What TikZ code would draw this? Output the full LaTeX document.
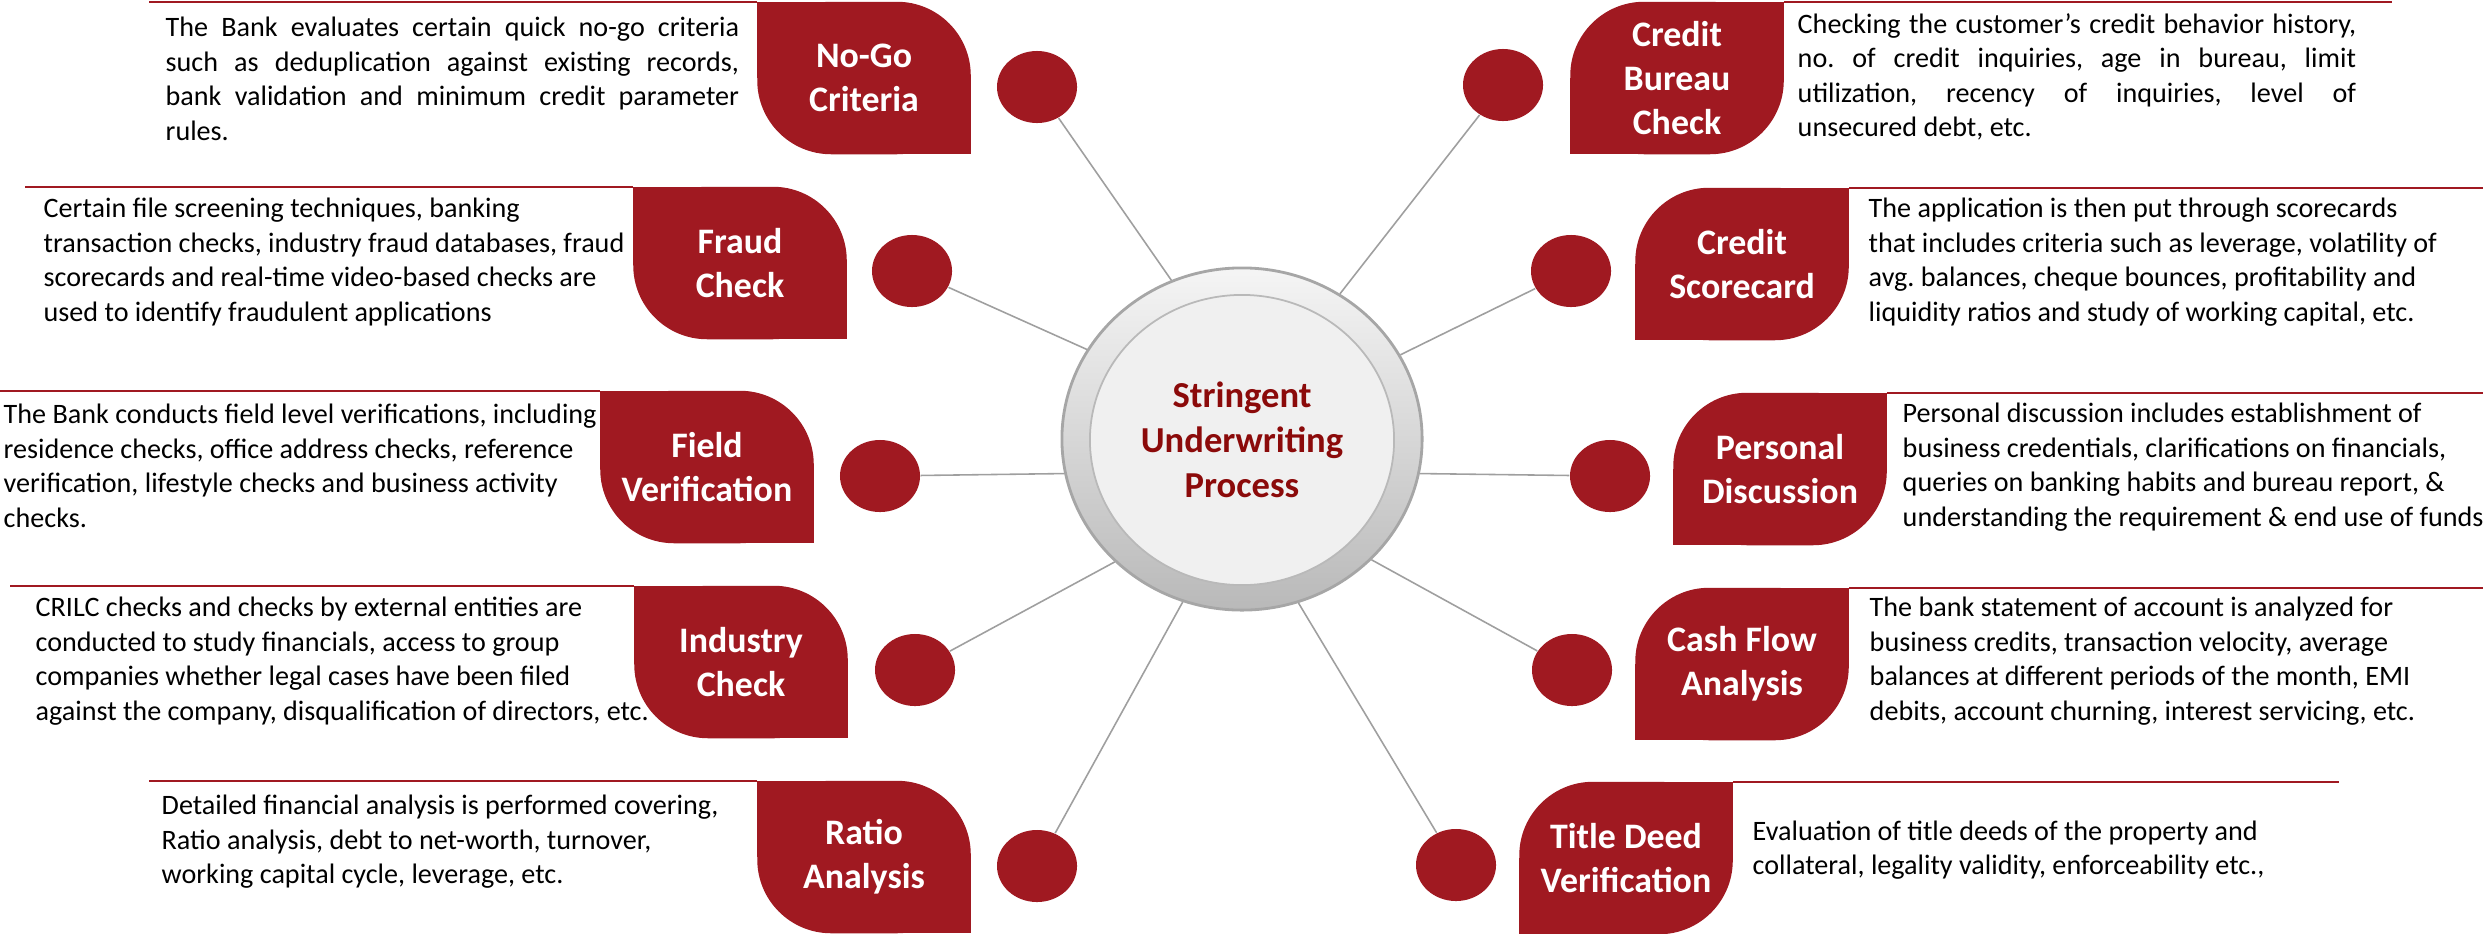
\documentclass[tikz,border=0pt]{standalone}
\usepackage{fontspec}
\setmainfont{Carlito}
\usetikzlibrary{shapes.geometric,backgrounds}
\definecolor{leafred}{RGB}{160,25,33}
\definecolor{hubred}{RGB}{139,10,10}
\frenchspacing
\begin{document}
\begin{tikzpicture}[x=0.01cm,y=-0.01cm,
    leafbox/.style={minimum width=2.12cm,minimum height=1.51cm,inner sep=0pt,text=white,align=center,font=\fontsize{10.2}{12.6}\selectfont\bfseries},
    blob/.style={ellipse,fill=leafred,minimum width=0.8cm,minimum height=0.72cm,inner sep=0pt},
    note/.style={inner sep=0pt,anchor=west,align=left,font=\fontsize{8}{9.8}\selectfont},
    fullnote/.style={note,text width=#1,align=justify},
    spoke/.style={draw=gray!75,line width=0.45pt},
    rule/.style={draw=leafred,line width=0.6pt},
    hub/.style={ellipse,minimum width=3.6cm,minimum height=3.42cm,inner sep=0pt,draw=gray!70,line width=0.8pt,top color=gray!8,bottom color=gray!55},
    core/.style={ellipse,minimum width=3.04cm,minimum height=2.9cm,inner sep=0pt,fill=gray!12,draw=gray!55,line width=0.5pt,text=hubred,align=center,font=\fontsize{10.4}{12.8}\selectfont\bfseries}]
  \useasboundingbox (0,0) rectangle (2483,933);

  \node[hub] (hub) at (1242,439) {};
  \node[core] (core) at (1242,440) {Stringent\\Underwriting\\Process};

  \node[leafbox] (nogo) at (864,78) {No-Go\\Criteria};
  \node[leafbox] (fraud) at (740,263) {Fraud\\Check};
  \node[leafbox] (field) at (707,467) {Field\\Verification};
  \node[leafbox] (industry) at (741,662) {Industry\\Check};
  \node[leafbox] (ratio) at (864,857) {Ratio\\Analysis};
  \node[leafbox] (bureau) at (1677,78) {Credit\\Bureau\\Check};
  \node[leafbox] (score) at (1742,264) {Credit\\Scorecard};
  \node[leafbox] (personal) at (1780,469) {Personal\\Discussion};
  \node[leafbox] (cash) at (1742,664) {Cash Flow\\Analysis};
  \node[leafbox] (deed) at (1626,858) {Title Deed\\Verification};

  \begin{scope}[on background layer]
    \foreach \n in {nogo,fraud,field,industry,ratio}{
      \fill[leafred,rounded corners=21pt] (\n.north west) rectangle (\n.south east);
      \fill[leafred] (\n.north west) rectangle (\n.center);
      \fill[leafred] (\n.south east) rectangle (\n.center);
    }
    \foreach \n in {bureau,score,personal,cash,deed}{
      \fill[leafred,rounded corners=21pt] (\n.north west) rectangle (\n.south east);
      \fill[leafred] (\n.north east) rectangle (\n.center);
      \fill[leafred] (\n.south west) rectangle (\n.center);
    }
  \end{scope}

  \node[blob] (nogodot) at (1037,87) {};
  \node[blob] (frauddot) at (912,271) {};
  \node[blob] (fielddot) at (880,476) {};
  \node[blob] (industrydot) at (915,670) {};
  \node[blob] (ratiodot) at (1037,866) {};
  \node[blob] (bureaudot) at (1503,85) {};
  \node[blob] (scoredot) at (1571,271) {};
  \node[blob] (personaldot) at (1610,476) {};
  \node[blob] (cashdot) at (1572,670) {};
  \node[blob] (deeddot) at (1456,865) {};

  \draw[spoke] (nogodot) -- (hub.114);
  \draw[spoke] (frauddot) -- (hub.150);
  \draw[spoke] (fielddot) -- (hub.191);
  \draw[spoke] (industrydot) -- (hub.224);
  \draw[spoke] (ratiodot) -- (hub.250);
  \draw[spoke] (bureaudot) -- (hub.56);
  \draw[spoke] (scoredot) -- (hub.28);
  \draw[spoke] (personaldot) -- (hub.349);
  \draw[spoke] (cashdot) -- (hub.317);
  \draw[spoke] (deeddot) -- (hub.289);

  \draw[rule] (nogo.north west) -- ++(-608,0);
  \draw[rule] (fraud.north west) -- ++(-608,0);
  \draw[rule] (field.north west) -- ++(-601,0);
  \draw[rule] (industry.north west) -- ++(-624,0);
  \draw[rule] (ratio.north west) -- ++(-608,0);
  \draw[rule] (bureau.north east) -- ++(608,0);
  \draw[rule] (score.north east) -- ++(635,0);
  \draw[rule] (personal.north east) -- ++(596,0);
  \draw[rule] (cash.north east) -- ++(635,0);
  \draw[rule] (deed.north east) -- ++(606,0);

  \node[fullnote=5.73cm] (nogotxt) at (165,79) {The Bank evaluates certain quick no-go criteria\linebreak such as deduplication against existing records,\linebreak bank validation and minimum credit parameter\linebreak rules.};
  \node[note] (fraudtxt) at (43,262) {Certain file screening techniques, banking\\transaction checks, industry fraud databases, fraud\\scorecards and real-time video-based checks are\\used to identify fraudulent applications};
  \node[note] (fieldtxt) at (3,466) {The Bank conducts field level verifications, including\\residence checks, office address checks, reference\\verification, lifestyle checks and business activity\\checks.};
  \node[note] (industrytxt) at (35,661) {CRILC checks and checks by external entities are\\conducted to study financials, access to group\\companies whether legal cases have been filed\\against the company, disqualification of directors, etc.};
  \node[note] (ratiotxt) at (161,842) {Detailed financial analysis is performed covering,\\Ratio analysis, debt to net-worth, turnover,\\working capital cycle, leverage, etc.};
  \node[fullnote=5.58cm] (bureautxt) at (1797,77) {Checking the customer’s credit behavior history,\linebreak no. of credit inquiries, age in bureau, limit\linebreak utilization, recency of inquiries, level of\linebreak unsecured debt, etc.};
  \node[note] (scoretxt) at (1868,262) {The application is then put through scorecards\\that includes criteria such as leverage, volatility of\\avg. balances, cheque bounces, profitability and\\liquidity ratios and study of working capital, etc.};
  \node[note] (personaltxt) at (1902,467) {Personal discussion includes establishment of\\business credentials, clarifications on financials,\\queries on banking habits and bureau report, \&\\understanding the requirement \& end use of funds};
  \node[note] (cashtxt) at (1869,661) {The bank statement of account is analyzed for\\business credits, transaction velocity, average\\balances at different periods of the month, EMI\\debits, account churning, interest servicing, etc.};
  \node[note] (deedtxt) at (1752,850) {Evaluation of title deeds of the property and\\collateral, legality validity, enforceability etc.,};
\end{tikzpicture}
\end{document}
